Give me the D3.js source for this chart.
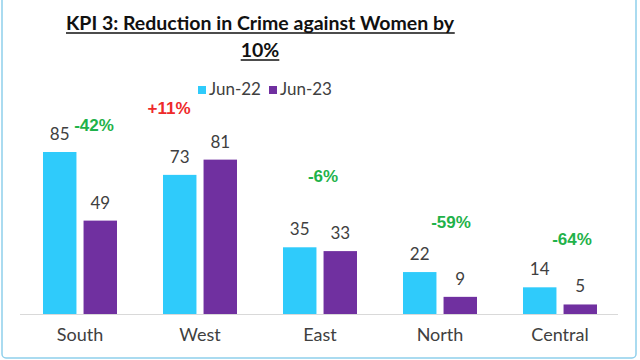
<!DOCTYPE html>
<html><head><meta charset="utf-8">
<script src="https://cdn.jsdelivr.net/npm/d3@7"></script>
<style>html,body{margin:0;padding:0;background:#fff;}svg{display:block;}</style>
</head><body>
<svg id="chart" width="640" height="360"></svg>
<script>
const categories = ["South", "West", "East", "North", "Central"];
const seriesNames = ["Jun-22", "Jun-23"];
const jun22 = [85, 73, 35, 22, 14];
const jun23 = [49, 81, 33, 9, 5];
const changeLabels = ["-42%", "+11%", "-6%", "-59%", "-64%"];
const changeAnchor = [96, 105, 69, 45, 36];
const titleLines = ["KPI 3: Reduction in Crime against Women by", "10%"];

// annotation horizontal offsets from group centre (layout)
const changeDx = [14, -31, 3, 11, 12];

const colors = ["#2FCBFB", "#7030A0"];
const font = "Lato, 'Open Sans', sans-serif";
const pctFont = "'Liberation Sans', Arial, sans-serif";
const svg = d3.select("#chart");

svg.append("rect").attr("x", 2).attr("y", -10).attr("width", 634).attr("height", 368)
  .attr("rx", 4).attr("fill", "#fff").attr("stroke", "#8FD0EC").attr("stroke-width", 1.5);

const baseY = 314;
const y = d3.scaleLinear().domain([0, 85]).range([baseY, baseY - 162]);
const x0 = d3.scaleBand().domain(categories).range([20, 620]).paddingInner(0).paddingOuter(0);
const x1 = d3.scaleBand().domain(seriesNames).range([23, 97]).paddingInner(0.175);

// title
const title = svg.append("g");
titleLines.forEach((t, i) => {
  const ty = 30 + i * 27;
  const tx = title.append("text").attr("x", 260).attr("y", ty)
    .attr("text-anchor", "middle").attr("font-family", font).attr("font-weight", "bold")
    .attr("font-size", 19.5).attr("fill", "#111").text(t);
  const bb = tx.node().getBBox();
  title.append("line").attr("x1", bb.x).attr("x2", bb.x + bb.width)
    .attr("y1", ty + 3).attr("y2", ty + 3)
    .attr("stroke", "#111").attr("stroke-width", 1.5);
});

// legend
const lg = svg.append("g").attr("transform", "translate(198,0)");
seriesNames.forEach((s, i) => {
  const g = lg.append("g").attr("transform", `translate(${i * 71},0)`);
  g.append("rect").attr("x", 0).attr("y", 86).attr("width", 8).attr("height", 8).attr("fill", colors[i]);
  g.append("text").attr("x", 11).attr("y", 95).attr("font-family", font).attr("font-size", 17)
    .attr("fill", "#404040").text(s);
});

// baseline
svg.append("line").attr("x1", 20).attr("x2", 618).attr("y1", baseY + 0.5).attr("y2", baseY + 0.5)
  .attr("stroke", "#D9D9D9").attr("stroke-width", 1);

const data = categories.map((c, i) => ({cat: c, vals: [jun22[i], jun23[i]]}));
const groups = svg.selectAll("g.grp").data(data).enter().append("g")
  .attr("class", "grp").attr("transform", d => `translate(${x0(d.cat)},0)`);

groups.selectAll("rect").data(d => d.vals.map((v, j) => ({v, s: seriesNames[j], j})))
  .enter().append("rect")
  .attr("x", d => x1(d.s)).attr("width", x1.bandwidth())
  .attr("y", d => y(d.v)).attr("height", d => baseY - y(d.v))
  .attr("fill", d => colors[d.j]);

groups.selectAll("text.val").data(d => d.vals.map((v, j) => ({v, s: seriesNames[j]})))
  .enter().append("text").attr("class", "val")
  .attr("x", d => x1(d.s) + x1.bandwidth() / 2).attr("y", d => y(d.v) - 12)
  .attr("text-anchor", "middle").attr("font-family", font).attr("font-size", 17)
  .attr("fill", "#404040").text(d => d.v);

// axis labels
const xAxis = d3.axisBottom(x0).tickSize(0).tickPadding(14);
const ax = svg.append("g").attr("transform", `translate(0,${baseY})`).call(xAxis);
ax.select(".domain").remove();
ax.selectAll("text").attr("font-family", font).attr("font-size", 18).attr("fill", "#404040");

// change annotations
svg.selectAll("text.chg").data(categories).enter().append("text").attr("class", "chg")
  .attr("x", (c, i) => x0(c) + x0.bandwidth() / 2 + changeDx[i])
  .attr("y", (c, i) => y(changeAnchor[i]))
  .attr("text-anchor", "middle").attr("font-family", pctFont).attr("font-weight", "bold")
  .attr("font-size", 17)
  .attr("fill", (c, i) => changeLabels[i].startsWith("+") ? "#EE2A2A" : "#1FB24A")
  .text((c, i) => changeLabels[i]);
</script>
</body></html>
